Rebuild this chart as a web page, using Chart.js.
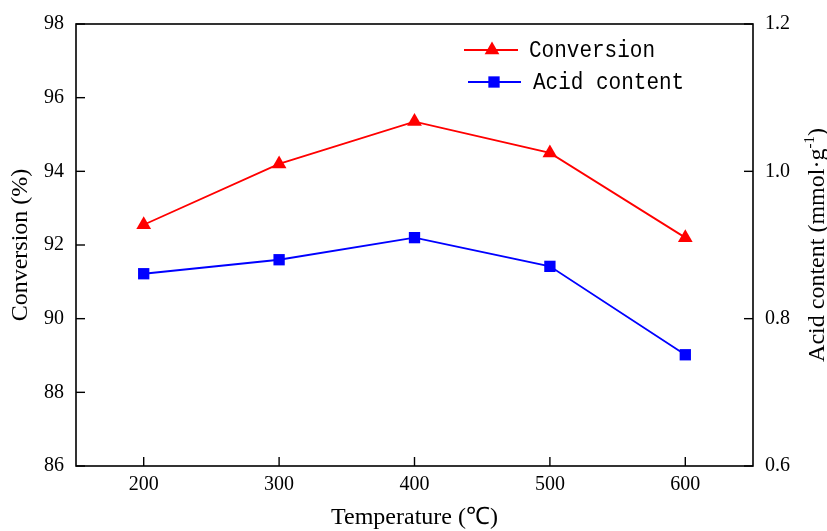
<!DOCTYPE html>
<html>
<head>
<meta charset="utf-8">
<script src="https://cdn.jsdelivr.net/npm/chart.js@4/dist/chart.umd.min.js"></script>
<style>
html,body{margin:0;padding:0;background:#fff;}
#wrap{width:827px;height:531px;}
</style>
</head>
<body>
<div id="wrap"><canvas id="c" width="827" height="531"></canvas></div>
<script>
const temperatures = ['200', '300', '400', '500', '600'];
const conversion = [92.55, 94.2, 95.35, 94.5, 92.2];
const acidContent = [0.861, 0.880, 0.910, 0.871, 0.751];
const leftTicks = {min: 86, max: 98, step: 2};
const rightTicks = {min: 0.6, max: 1.2, step: 0.2};
const xTitle = 'Temperature (\u2103)';
const yLeftTitle = 'Conversion (%)';
const yRightTitle = ['Acid content (mmol\u00b7g', '-1', ')'];

const SERIF = '"Liberation Serif", "Times New Roman", serif';
const MONO = '"Liberation Mono", "DejaVu Sans Mono", monospace';

function drawMarker(ctx, style, x, y, r, color) {
  ctx.save();
  ctx.fillStyle = color;
  ctx.beginPath();
  if (style === 'triangle') {
    ctx.moveTo(x, y - r);
    ctx.lineTo(x + r * Math.sin(Math.PI / 3), y + r / 2);
    ctx.lineTo(x - r * Math.sin(Math.PI / 3), y + r / 2);
    ctx.closePath();
  } else {
    const s = Math.SQRT1_2 * r;
    ctx.rect(x - s, y - s, 2 * s, 2 * s);
  }
  ctx.fill();
  ctx.restore();
}

const framePlugin = {
  id: 'frame',
  afterDatasetsDraw(chart) {
    const ctx = chart.ctx;
    const a = chart.chartArea;
    ctx.save();
    ctx.strokeStyle = '#000';
    ctx.lineWidth = 1.6;
    ctx.strokeRect(a.left, a.top, a.right - a.left, a.bottom - a.top);
    const tl = 9;
    ctx.lineWidth = 1.4;
    const xs = chart.scales.x;
    xs.ticks.forEach((t, i) => {
      const px = xs.getPixelForTick(i);
      ctx.beginPath(); ctx.moveTo(px, a.bottom); ctx.lineTo(px, a.bottom - tl); ctx.stroke();
    });
    const yl = chart.scales.y;
    yl.ticks.forEach((t, i) => {
      const py = yl.getPixelForTick(i);
      ctx.beginPath(); ctx.moveTo(a.left, py); ctx.lineTo(a.left + tl, py); ctx.stroke();
    });
    const yr = chart.scales.y1;
    yr.ticks.forEach((t, i) => {
      const py = yr.getPixelForTick(i);
      ctx.beginPath(); ctx.moveTo(a.right, py); ctx.lineTo(a.right - tl, py); ctx.stroke();
    });

    ctx.fillStyle = '#000';
    ctx.font = '24px ' + SERIF;
    ctx.textAlign = 'center';
    ctx.textBaseline = 'middle';
    const cx = (a.left + a.right) / 2, cy = (a.top + a.bottom) / 2;
    ctx.fillText(xTitle, cx, 518);
    ctx.save();
    ctx.translate(21, cy);
    ctx.rotate(-Math.PI / 2);
    ctx.fillText(yLeftTitle, 0, 0);
    ctx.restore();
    ctx.save();
    ctx.translate(816, cy);
    ctx.rotate(-Math.PI / 2);
    ctx.textAlign = 'left';
    ctx.textBaseline = 'alphabetic';
    ctx.font = '24px ' + SERIF;
    const w1 = ctx.measureText(yRightTitle[0]).width;
    ctx.font = '15px ' + SERIF;
    const w2 = ctx.measureText(yRightTitle[1]).width;
    ctx.font = '24px ' + SERIF;
    const w3 = ctx.measureText(yRightTitle[2]).width;
    const total = w1 + w2 + w3;
    let x0 = -total / 2;
    const base = 8;
    ctx.fillText(yRightTitle[0], x0, base);
    ctx.font = '15px ' + SERIF;
    ctx.fillText(yRightTitle[1], x0 + w1, base - 10);
    ctx.font = '24px ' + SERIF;
    ctx.fillText(yRightTitle[2], x0 + w1 + w2, base);
    ctx.restore();

    const items = [
      {ds: chart.data.datasets[0], y: 50, x1: 464, x2: 518, mx: 492, tx: 529},
      {ds: chart.data.datasets[1], y: 82, x1: 468, x2: 521, mx: 494, tx: 533}
    ];
    items.forEach(it => {
      ctx.strokeStyle = it.ds.borderColor;
      ctx.lineWidth = it.ds.borderWidth;
      ctx.beginPath(); ctx.moveTo(it.x1, it.y); ctx.lineTo(it.x2, it.y); ctx.stroke();
      drawMarker(ctx, it.ds.pointStyle, it.mx, it.y, it.ds.pointRadius, it.ds.pointBackgroundColor);
      ctx.save();
      ctx.fillStyle = '#000';
      ctx.font = '21px ' + MONO;
      ctx.textAlign = 'left';
      ctx.textBaseline = 'middle';
      ctx.translate(it.tx, it.y);
      ctx.scale(1, 1.18);
      ctx.fillText(it.ds.label, 0, 0);
      ctx.restore();
    });
    ctx.restore();
  }
};

new Chart(document.getElementById('c'), {
  type: 'line',
  data: {
    labels: temperatures,
    datasets: [
      {
        label: 'Conversion',
        data: conversion,
        yAxisID: 'y',
        borderColor: '#ff0000',
        backgroundColor: '#ff0000',
        pointBackgroundColor: '#ff0000',
        pointBorderColor: '#ff0000',
        pointBorderWidth: 0,
        borderWidth: 1.8,
        pointStyle: 'triangle',
        pointRadius: 8.5,
        tension: 0
      },
      {
        label: 'Acid content',
        data: acidContent,
        yAxisID: 'y1',
        borderColor: '#0000ff',
        backgroundColor: '#0000ff',
        pointBackgroundColor: '#0000ff',
        pointBorderColor: '#0000ff',
        pointBorderWidth: 0,
        borderWidth: 1.8,
        pointStyle: 'rect',
        pointRadius: 8,
        tension: 0
      }
    ]
  },
  options: {
    responsive: false,
    animation: false,
    devicePixelRatio: 1,
    layout: {padding: {top: 22, left: 0, right: 0, bottom: 0}},
    plugins: {legend: {display: false}, tooltip: {enabled: false}},
    scales: {
      x: {
        type: 'category',
        offset: true,
        grid: {display: false, drawTicks: false},
        border: {display: false},
        ticks: {color: '#000', font: {family: SERIF, size: 20}, padding: 7, maxRotation: 0},
        afterFit(s) { s.height = 65; }
      },
      y: {
        position: 'left',
        min: leftTicks.min, max: leftTicks.max,
        grid: {display: false, drawTicks: false},
        border: {display: false},
        ticks: {stepSize: leftTicks.step, color: '#000', font: {family: SERIF, size: 20}, padding: 12},
        afterFit(s) { s.width = 76; }
      },
      y1: {
        position: 'right',
        min: rightTicks.min, max: rightTicks.max,
        grid: {display: false, drawTicks: false},
        border: {display: false},
        ticks: {stepSize: rightTicks.step, color: '#000', font: {family: SERIF, size: 20}, padding: 12,
          callback: v => Number(v).toFixed(1)},
        afterFit(s) { s.width = 74; }
      }
    }
  },
  plugins: [framePlugin]
});
</script>
</body>
</html>
